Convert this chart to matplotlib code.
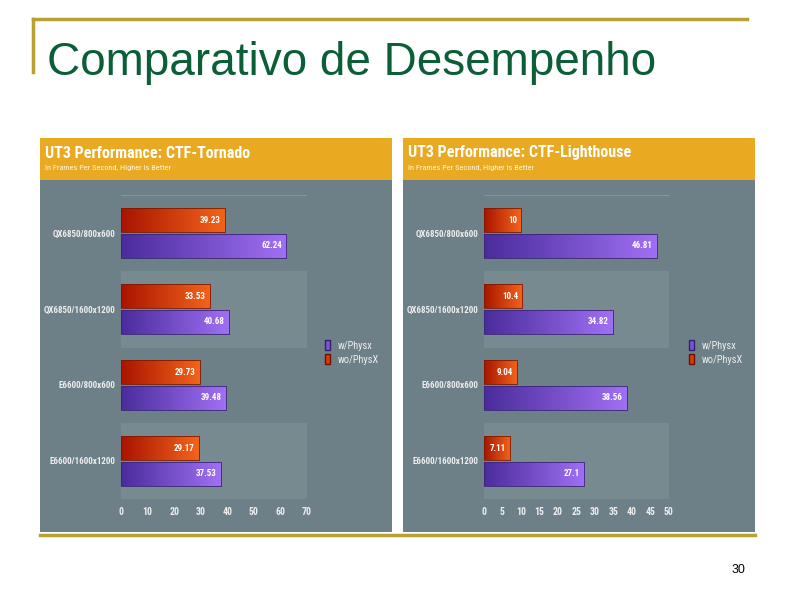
import numpy as np
import matplotlib
matplotlib.use("Agg")
import matplotlib.pyplot as plt
from matplotlib.patches import Rectangle, Patch
from matplotlib.lines import Line2D
from matplotlib.colors import LinearSegmentedColormap

# dados
categorias = ["QX6850/800x600", "QX6850/1600x1200", "E6600/800x600", "E6600/1600x1200"]
tornado_sem = [39.23, 33.53, 29.73, 29.17]
tornado_com = [62.24, 40.68, 39.48, 37.53]
lighthouse_sem = [10, 10.4, 9.04, 7.11]
lighthouse_com = [46.81, 34.82, 38.56, 27.1]
tornado_ticks = [0, 10, 20, 30, 40, 50, 60, 70]
lighthouse_ticks = [0, 5, 10, 15, 20, 25, 30, 35, 40, 45, 50]
legenda = ["w/Physx", "wo/PhysX"]

W, H = 794, 595
NARROW = ["Roboto Condensed", "DejaVu Sans"]
SANS = ["Liberation Sans", "DejaVu Sans"]

GOLD = "#b9a033"
HEADER = "#e9aa22"
BODY = "#6d8087"
BAND = "#778a90"
TXT = "#eeeeee"

laranja = LinearSegmentedColormap.from_list("lar", ["#a81400", "#f4641a"])
roxo = LinearSegmentedColormap.from_list("rox", ["#4a2c9c", "#a070f4"])


def fx(px):
    return px / W


def fy(py):
    return 1 - py / H


fig = plt.figure(figsize=(W / 100, H / 100), dpi=100)
fig.patch.set_facecolor("white")

# linhas douradas do slide
fig.add_artist(Line2D([fx(33), fx(747)], [fy(19), fy(19)], color=GOLD, lw=2.5))
fig.add_artist(Line2D([fx(33), fx(33)], [fy(19), fy(72)], color=GOLD, lw=2.5))
fig.add_artist(Line2D([fx(40), fx(755)], [fy(535), fy(535)], color=GOLD, lw=2.5))

fig.text(fx(47), fy(75), "Comparativo de Desempenho", fontsize=33, color="#0b5e36",
         family=SANS, va="baseline", ha="left")
fig.text(fx(745), fy(570), "30", fontsize=9, color="black", family=SANS,
         ha="right", va="center")


def grad_barh(ax, y, vals, h, cmap, edge):
    bars = ax.barh(y, vals, height=h, color="none", edgecolor=edge, lw=0.6, zorder=3)
    grad = np.linspace(0, 1, 256).reshape(1, -1)
    for b in bars:
        x0, y0 = b.get_x(), b.get_y()
        im = ax.imshow(grad, extent=(x0, x0 + b.get_width(), y0, y0 + b.get_height()),
                       cmap=cmap, aspect="auto", zorder=2, interpolation="bicubic")
        im.set_clip_path(b)
    return bars


def painel(x0, x1, titulo, sem, com, ticks, ax_left, ax_right, leg_x):
    # fundo do painel
    fig.add_artist(Rectangle((fx(x0), fy(532)), fx(x1 - x0), (532 - 180) / H,
                             facecolor=BODY, edgecolor="none", zorder=-10))
    fig.add_artist(Rectangle((fx(x0), fy(180)), fx(x1 - x0), (180 - 138) / H,
                             facecolor=HEADER, edgecolor="none", zorder=-10))
    fig.text(fx(x0 + 5), fy(153), titulo, color="white", fontsize=11.5, fontweight="bold",
             family=NARROW, va="center")
    fig.text(fx(x0 + 5), fy(168), "In Frames Per Second, Higher Is Better", color="#fff4e0",
             fontsize=6, family=NARROW, va="center")

    ax = fig.add_axes([fx(ax_left), fy(499), fx(ax_right - ax_left), (499 - 195) / H])
    ax.set_facecolor(BODY)
    pos = np.arange(len(categorias))
    for i in pos:
        if i % 2 == 1:
            ax.axhspan(i - 0.5, i + 0.5, color=BAND, zorder=0)
    ax.axhline(-0.5, color="#8a9aa0", lw=0.6, zorder=1)

    grad_barh(ax, pos - 0.17, sem, 0.32, laranja, "#7a1a00")
    grad_barh(ax, pos + 0.17, com, 0.32, roxo, "#3a2478")

    for i in pos:
        ax.annotate(f"{sem[i]:g}", (sem[i], i - 0.17), xytext=(-3, 0), textcoords="offset points",
                    ha="right", va="center", color="white", fontsize=6.5, fontweight="bold",
                    family=NARROW, zorder=4)
        ax.annotate(f"{com[i]:g}", (com[i], i + 0.17), xytext=(-3, 0), textcoords="offset points",
                    ha="right", va="center", color="white", fontsize=6.5, fontweight="bold",
                    family=NARROW, zorder=4)

    ax.set_xlim(ticks[0], ticks[-1])
    ax.set_ylim(len(categorias) - 0.5, -0.5)
    ax.set_xticks(ticks)
    ax.set_xticklabels([str(t) for t in ticks], color=TXT, fontsize=7, fontweight="bold",
                       family=NARROW)
    ax.set_yticks(pos)
    ax.set_yticklabels(categorias, color=TXT, fontsize=6.5, fontweight="bold", family=NARROW)
    ax.tick_params(length=0, axis="x", pad=6)
    ax.tick_params(length=0, axis="y", pad=4)
    for s in ax.spines.values():
        s.set_visible(False)

    handles = [Patch(facecolor="#7b52d8", edgecolor="#33206e"),
               Patch(facecolor="#d83a0c", edgecolor="#6e1200")]
    ax.legend(handles, legenda, loc="upper left", bbox_to_anchor=(fx(leg_x), fy(340)),
              bbox_transform=fig.transFigure, frameon=False,
              labelcolor=TXT, handlelength=0.5, handleheight=1.1, handletextpad=0.7,
              labelspacing=0.35, borderpad=0, borderaxespad=0,
              prop={"family": NARROW, "size": 7.5})


painel(40, 392, "UT3 Performance: CTF-Tornado", tornado_sem, tornado_com, tornado_ticks,
       121, 307, 325)
painel(403, 755, "UT3 Performance: CTF-Lighthouse", lighthouse_sem, lighthouse_com,
       lighthouse_ticks, 484, 669, 689)

fig.savefig("out.png", dpi=100)
